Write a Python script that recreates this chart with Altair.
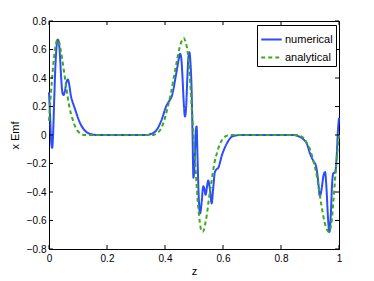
import altair as alt
import pandas as pd

# ---- data ----
ana_z = [0.000, 0.005, 0.010, 0.015, 0.020, 0.025, 0.030, 0.035, 0.040, 0.045,
         0.050, 0.055, 0.060, 0.065, 0.070, 0.080, 0.090, 0.100, 0.110, 0.120,
         0.360, 0.370, 0.380, 0.390, 0.400, 0.410, 0.420, 0.430, 0.440, 0.450,
         0.460, 0.465, 0.470, 0.475, 0.480, 0.485, 0.490, 0.495, 0.500, 0.505,
         0.510, 0.515, 0.520, 0.525, 0.530, 0.535, 0.540, 0.545, 0.550, 0.555,
         0.560, 0.565, 0.570, 0.580, 0.590, 0.600, 0.610, 0.620, 0.860, 0.870,
         0.880, 0.890, 0.900, 0.910, 0.920, 0.930, 0.940, 0.950, 0.960, 0.965,
         0.970, 0.975, 0.980, 0.985, 0.990, 0.995, 1.000]
ana_y = [0.10, 0.25, 0.38, 0.50, 0.59, 0.65, 0.67, 0.65, 0.60, 0.54,
         0.47, 0.40, 0.33, 0.26, 0.20, 0.12, 0.06, 0.025, 0.008, 0.0,
         0.0, 0.01, 0.025, 0.06, 0.12, 0.20, 0.29, 0.40, 0.51, 0.61,
         0.67, 0.68, 0.66, 0.62, 0.55, 0.43, 0.27, 0.10, -0.05, -0.22,
         -0.38, -0.52, -0.61, -0.67, -0.68, -0.66, -0.61, -0.55, -0.47, -0.40,
         -0.33, -0.26, -0.20, -0.12, -0.06, -0.025, -0.008, 0.0, 0.0, -0.01,
         -0.025, -0.06, -0.10, -0.17, -0.25, -0.37, -0.50, -0.61, -0.67, -0.68,
         -0.66, -0.60, -0.48, -0.35, -0.22, -0.10, 0.0]

num_z = [0.000, 0.004, 0.008, 0.011, 0.014, 0.018, 0.022, 0.026, 0.030, 0.034,
         0.038, 0.042, 0.046, 0.050, 0.055, 0.060, 0.065, 0.070, 0.075, 0.080,
         0.085, 0.090, 0.095, 0.100, 0.108, 0.118, 0.130, 0.147, 0.165, 0.340,
         0.348, 0.360, 0.371, 0.385, 0.394, 0.400, 0.406, 0.415, 0.423, 0.430,
         0.436, 0.442, 0.448, 0.452, 0.456, 0.460, 0.464, 0.469, 0.473, 0.477,
         0.481, 0.484, 0.488, 0.492, 0.495, 0.498, 0.502, 0.506, 0.509, 0.512,
         0.516, 0.521, 0.526, 0.532, 0.536, 0.540, 0.545, 0.549, 0.555, 0.561,
         0.566, 0.572, 0.578, 0.584, 0.590, 0.595, 0.604, 0.613, 0.622, 0.630,
         0.645, 0.660, 0.840, 0.855, 0.871, 0.880, 0.889, 0.900, 0.911, 0.921,
         0.928, 0.934, 0.940, 0.946, 0.952, 0.957, 0.962, 0.967, 0.972, 0.976,
         0.980, 0.987, 0.992, 0.996, 1.000]
num_y = [0.30, 0.12, -0.06, -0.09, 0.0, 0.25, 0.48, 0.62, 0.67, 0.65,
         0.55, 0.40, 0.30, 0.28, 0.31, 0.37, 0.39, 0.35, 0.28, 0.24,
         0.21, 0.18, 0.15, 0.12, 0.08, 0.045, 0.02, 0.005, 0.0, 0.0,
         0.005, 0.015, 0.035, 0.09, 0.14, 0.18, 0.21, 0.24, 0.27, 0.33,
         0.40, 0.47, 0.54, 0.57, 0.54, 0.42, 0.25, 0.13, 0.20, 0.40,
         0.55, 0.58, 0.50, 0.30, 0.0, -0.30, -0.20, 0.02, 0.06, -0.15,
         -0.42, -0.55, -0.48, -0.36, -0.38, -0.42, -0.36, -0.32, -0.38, -0.48,
         -0.38, -0.26, -0.24, -0.23, -0.19, -0.15, -0.10, -0.06, -0.03, -0.012,
         -0.003, 0.0, 0.0, -0.005, -0.02, -0.035, -0.06, -0.13, -0.18, -0.22,
         -0.32, -0.43, -0.38, -0.29, -0.26, -0.38, -0.58, -0.68, -0.55, -0.35,
         -0.27, -0.26, -0.15, 0.02, 0.12]

series_names = ["numerical", "analytical"]
x_ticks = [0, 0.2, 0.4, 0.6, 0.8, 1]
y_ticks = [-0.8, -0.6, -0.4, -0.2, 0, 0.2, 0.4, 0.6, 0.8]

BLUE = "#2b4cff"
GREEN = "#3aaa1e"
W, H = 290, 228

df = pd.concat([
    pd.DataFrame({"z": num_z, "y": num_y, "series": series_names[0]}),
    pd.DataFrame({"z": ana_z, "y": ana_y, "series": series_names[1]}),
])

xscale = alt.Scale(domain=[0, 1], nice=False, zero=False)
yscale = alt.Scale(domain=[-0.8, 0.8], nice=False, zero=False)
xaxis = alt.Axis(values=x_ticks, ticks=False, grid=False, format="~g",
                 labelFontSize=10, labelPadding=4, labelFlush=False,
                 titleFontSize=11, titleFontWeight="normal", titlePadding=2)
yaxis = alt.Axis(values=y_ticks, ticks=False, grid=False, format="~g",
                 labelFontSize=10, labelPadding=3, labelFlush=False,
                 titleFontSize=11, titleFontWeight="normal", titlePadding=6)

leg = dict(title=None, orient="none", legendX=208, legendY=4,
           symbolType="stroke", symbolSize=420, symbolStrokeWidth=2,
           labelFontSize=11, labelOffset=2, padding=3, rowPadding=1,
           strokeColor="black", fillColor="white")

lines = alt.Chart(df).mark_line(strokeWidth=2, interpolate="monotone").encode(
    x=alt.X("z:Q", scale=xscale, title="z", axis=xaxis),
    y=alt.Y("y:Q", scale=yscale, title="x Emf", axis=yaxis),
    color=alt.Color("series:N", scale=alt.Scale(domain=series_names, range=[BLUE, GREEN]),
                    legend=alt.Legend(**leg)),
    strokeDash=alt.StrokeDash("series:N", scale=alt.Scale(domain=series_names,
                                                          range=[[1, 0], [4, 3]]),
                              legend=alt.Legend(**leg)),
)

xt = pd.DataFrame({"z": x_ticks})
yt = pd.DataFrame({"y": y_ticks})
tick_style = dict(color="black", strokeWidth=1)

xb = alt.Chart(xt).mark_rule(**tick_style).encode(
    x=alt.X("z:Q", scale=xscale, title="z", axis=xaxis), y=alt.value(H), y2=alt.value(H - 4))
xtp = alt.Chart(xt).mark_rule(**tick_style).encode(
    x=alt.X("z:Q", scale=xscale, title="z", axis=xaxis), y=alt.value(0), y2=alt.value(4))
yl = alt.Chart(yt).mark_rule(**tick_style).encode(
    y=alt.Y("y:Q", scale=yscale, title="x Emf", axis=yaxis), x=alt.value(0), x2=alt.value(4))
yr = alt.Chart(yt).mark_rule(**tick_style).encode(
    y=alt.Y("y:Q", scale=yscale, title="x Emf", axis=yaxis), x=alt.value(W), x2=alt.value(W - 4))

chart = alt.layer(lines, xb, xtp, yl, yr).properties(
    width=W, height=H,
    autosize=alt.AutoSizeParams(type="none"),
    padding={"left": 41, "top": 13, "right": 27, "bottom": 40},
).configure_view(stroke="black", strokeWidth=1).configure_axis(
    domainColor="black", labelColor="black", titleColor="black",
    labelFont="Liberation Sans", titleFont="Liberation Sans",
).configure_legend(labelFont="Liberation Sans", labelColor="black")

chart.save("out.html", embed_options={"renderer": "svg", "actions": False})
